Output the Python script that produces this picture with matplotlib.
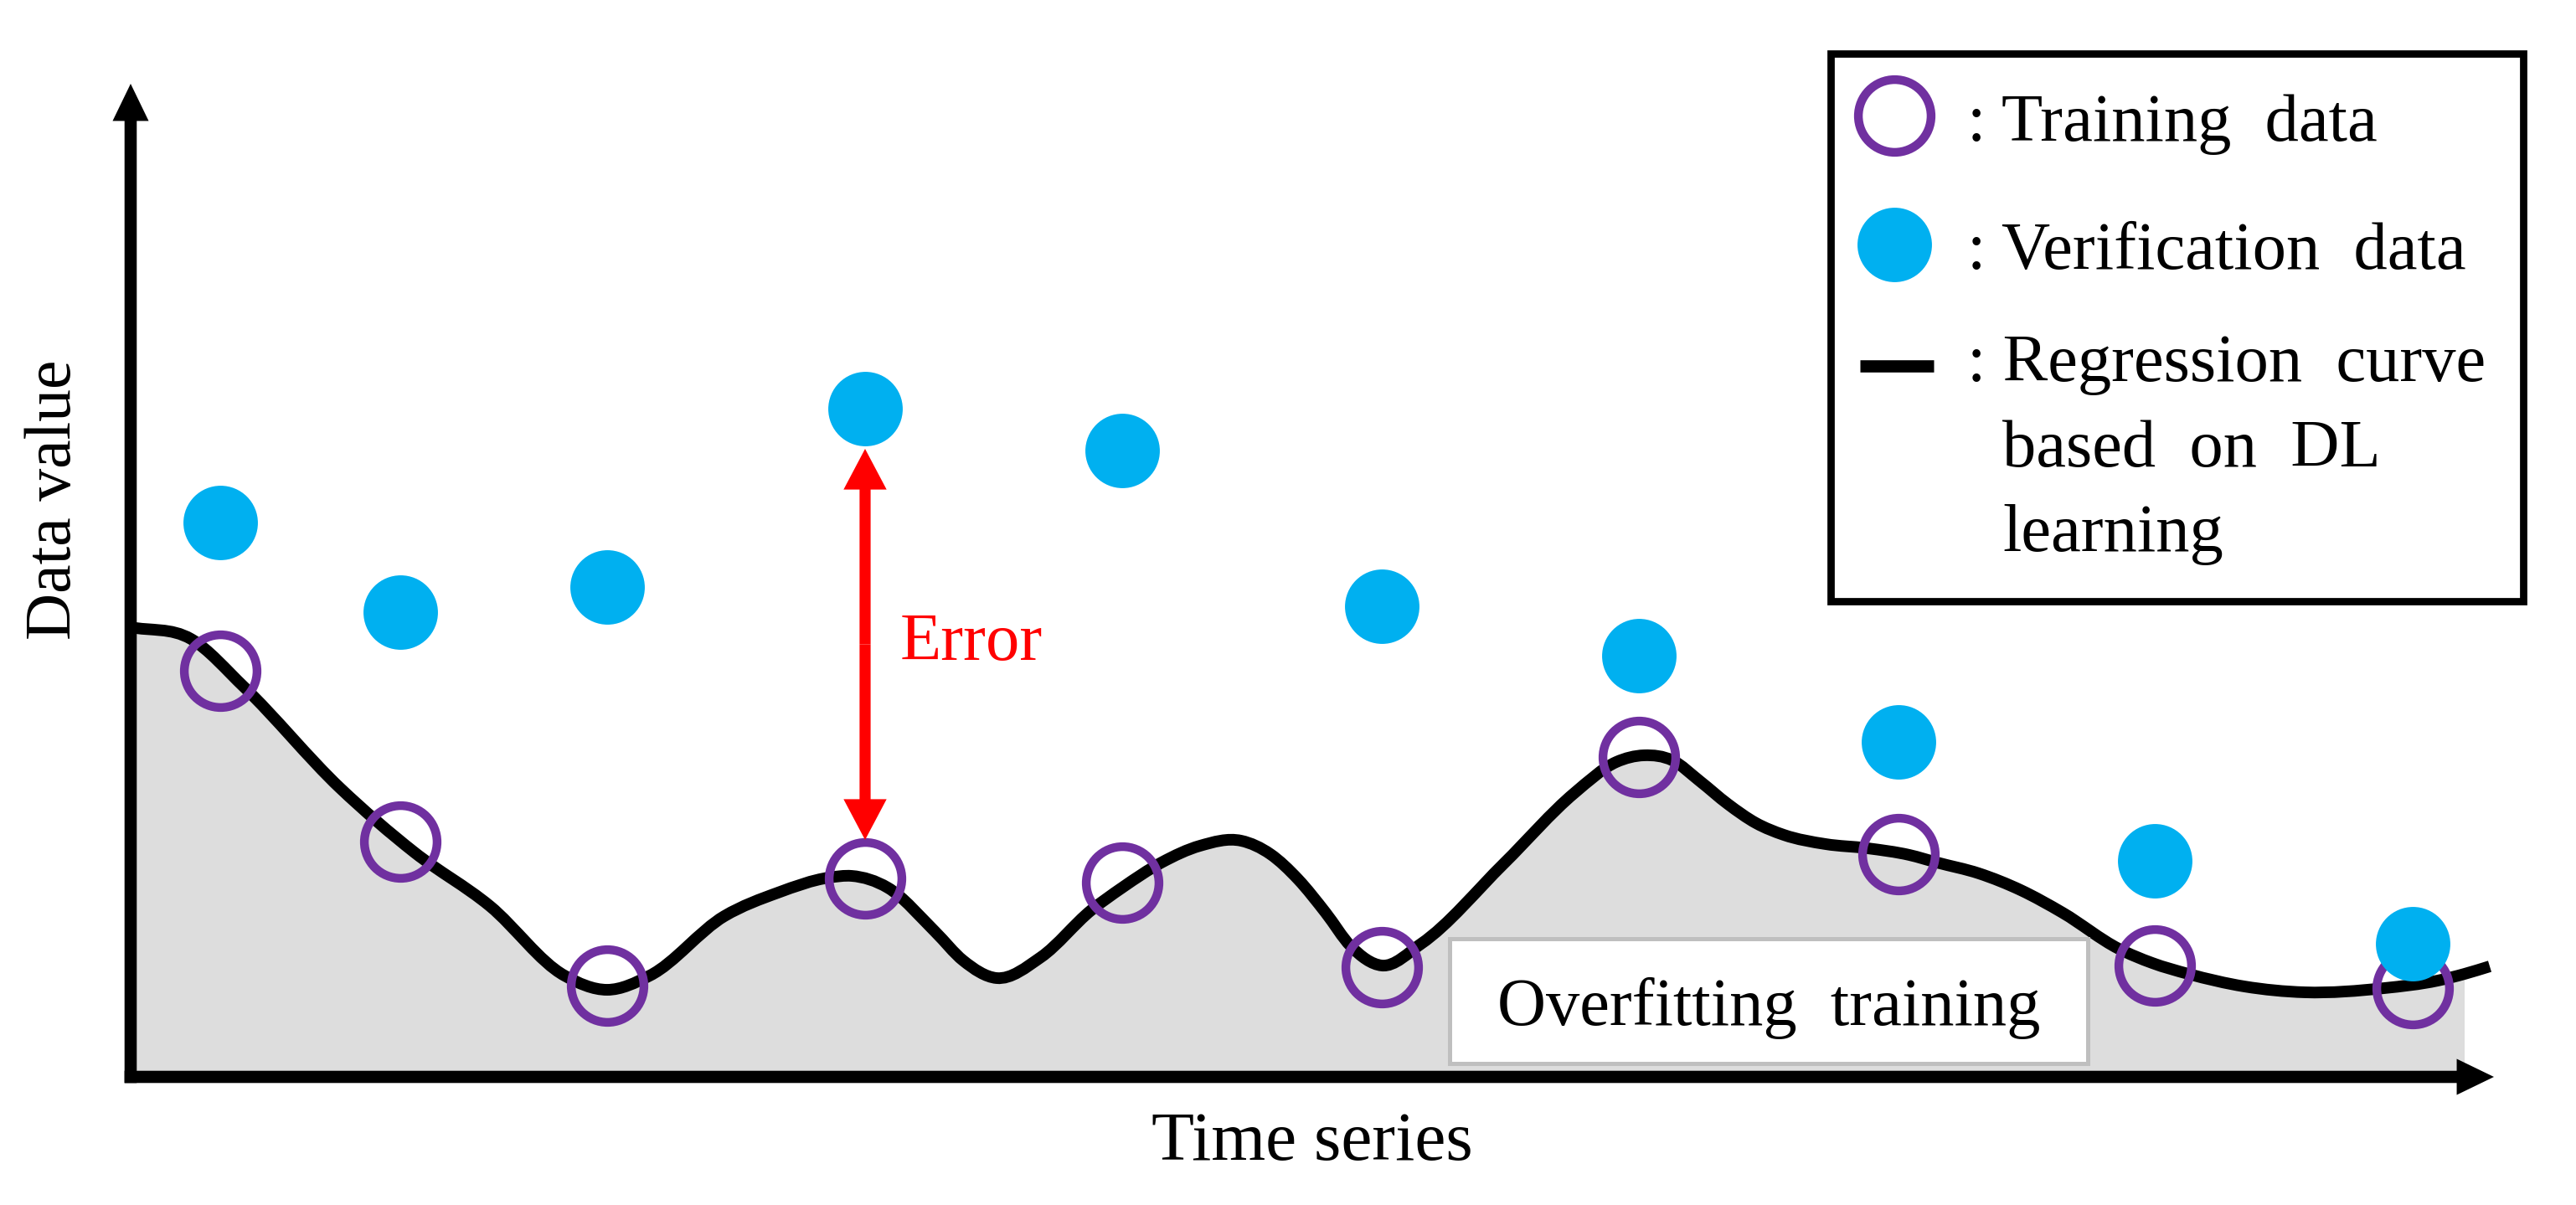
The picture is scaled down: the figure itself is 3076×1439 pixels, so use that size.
import numpy as np
import matplotlib
matplotlib.use("Agg")
import matplotlib.pyplot as plt
from matplotlib.path import Path
from matplotlib.patches import PathPatch, FancyArrowPatch, Rectangle

plt.rcParams['font.family'] = ['Liberation Serif', 'DejaVu Serif']

# ---------------- data (arbitrary units, origin at axes corner) ----------------
time_points = [10.7, 32.2, 56.9, 87.7, 118.4, 149.4, 180.1, 211.1, 241.7, 272.5]
training_values = [48.5, 28.1, 10.9, 23.7, 23.2, 13.1, 38.2, 26.6, 13.3, 10.6]
verification_values = [66.2, 55.5, 58.5, 79.8, 74.8, 56.2, 50.3, 40.0, 25.8, 15.9]

curve_x = [0.0, 7.2, 13.5, 25.0, 33.9, 42.9, 51.8, 56.9, 62.0, 70.9, 77.3, 83.4,
           86.1, 90.4, 96.1, 99.4, 103.4, 108.7, 114.7, 118.4, 123.1, 127.7,
           132.6, 136.1, 139.4, 142.7, 145.7, 149.4, 154.1, 164.0, 172.4, 177.4,
           180.7, 184.1, 187.4, 190.7, 194.1, 197.4, 202.4, 207.4, 212.4, 215.7,
           220.7, 225.7, 230.7, 237.4, 241.4, 245.7, 252.4, 259.6, 269.1, 275.5,
           278.7, 281.7]
curve_y = [53.7, 52.3, 46.6, 34.5, 26.8, 20.4, 12.1, 10.4, 12.1, 19.2, 22.0, 23.8,
           24.0, 22.6, 17.3, 13.9, 11.8, 14.3, 19.9, 22.6, 25.6, 27.6,
           28.2, 26.6, 23.6, 19.6, 15.6, 13.3, 15.9, 25.5, 33.9, 37.6,
           38.4, 37.8, 35.3, 32.6, 30.3, 28.9, 27.8, 27.3, 26.5, 25.6,
           24.3, 22.3, 19.6, 15.3, 13.6, 12.3, 10.8, 10.1, 10.6, 11.5,
           12.3, 13.2]
fill_end_x = 278.7
error_index = 3

x_label = "Time series"
y_label = "Data value"
legend_labels = [": Training  data", ": Verification  data", ": Regression  curve"]
legend_extra = ["based  on  DL", "learning"]
box_label = "Overfitting  training"
error_label = "Error"

# ---------------- styling ----------------
PURPLE = '#7030A0'
BLUE = '#00B0F0'
GRAY = '#DDDDDD'
FS = 58
RING_MS, RING_MEW, DOT_MS = 62.5, 7.5, 64

W, H, DPI = 3076, 1439, 100
fig = plt.figure(figsize=(W / DPI, H / DPI), dpi=DPI)
fig.patch.set_facecolor('white')

# main axes: corner at the arrow-axes origin
x0px, y0px, x1px, y1px = 156, 1286, 2978, 97
ax = fig.add_axes([x0px / W, (H - y0px) / H, (x1px - x0px) / W, (y0px - y1px) / H])
xmax = (x1px - x0px) / 10
ymax = (y0px - y1px) / 10
ax.set_xlim(0, xmax)
ax.set_ylim(0, ymax)
ax.axis('off')


def smooth_path(xs, ys):
    """Cubic Hermite (Bezier) path through the given points."""
    x = np.asarray(xs, float)
    y = np.asarray(ys, float)
    h = np.diff(x)
    d = np.diff(y) / h
    m = np.empty_like(y)
    m[0], m[-1] = d[0], d[-1]
    m[1:-1] = (h[:-1] * d[1:] + h[1:] * d[:-1]) / (h[:-1] + h[1:])
    verts = [(x[0], y[0])]
    codes = [Path.MOVETO]
    for i in range(len(x) - 1):
        verts += [(x[i] + h[i] / 3, y[i] + m[i] * h[i] / 3),
                  (x[i + 1] - h[i] / 3, y[i + 1] - m[i + 1] * h[i] / 3),
                  (x[i + 1], y[i + 1])]
        codes += [Path.CURVE4] * 3
    return verts, codes


verts, codes = smooth_path(curve_x, curve_y)
k = curve_x.index(fill_end_x)
fverts = verts[:1 + 3 * k] + [(fill_end_x, 0), (0, 0), (0, 0)]
fcodes = codes[:1 + 3 * k] + [Path.LINETO, Path.LINETO, Path.CLOSEPOLY]
ax.add_patch(PathPatch(Path(fverts, fcodes), facecolor=GRAY, edgecolor='none',
                       zorder=1, clip_on=False))
ax.add_patch(PathPatch(Path(verts, codes), facecolor='none', edgecolor='black',
                       lw=10, capstyle='butt', zorder=2, clip_on=False))

ax.plot(time_points, training_values, 'o', ms=RING_MS, mfc='none', mec=PURPLE,
        mew=RING_MEW, zorder=3, clip_on=False)
ax.plot(time_points, verification_values, 'o', ms=DOT_MS, color=BLUE, mec='none',
        zorder=4, clip_on=False)

# axes arrows (filled, sharp heads)
axis_style = 'simple,head_length=32,head_width=31,tail_width=10.5'
ax.add_patch(FancyArrowPatch((-0.73, 0), (xmax, 0), arrowstyle=axis_style,
                             mutation_scale=1, lw=0, color='black',
                             shrinkA=0, shrinkB=0, clip_on=False, zorder=5))
ax.add_patch(FancyArrowPatch((0, -0.73), (0, ymax - 0.3), arrowstyle=axis_style,
                             mutation_scale=1, lw=0, color='black',
                             shrinkA=0, shrinkB=0, clip_on=False, zorder=5))

# error arrow (double headed)
ex = time_points[error_index]
e_top = verification_values[error_index] - 4.8
e_bot = training_values[error_index] + 4.6
e_mid = (e_top + e_bot) / 2
err_style = 'simple,head_length=35,head_width=37,tail_width=9.5'
for end in (e_top, e_bot):
    ax.add_patch(FancyArrowPatch((ex, e_mid), (ex, end), arrowstyle=err_style,
                                 mutation_scale=1, lw=0, color='red',
                                 shrinkA=0, shrinkB=0, clip_on=False, zorder=6))
ax.text(ex + 4.2, verification_values[error_index] - 30.0, error_label,
        color='red', fontsize=FS, va='baseline', ha='left')

# overlay axes in pixel units for annotations
ov = fig.add_axes([0, 0, 1, 1], zorder=5)
ov.set_xlim(0, W)
ov.set_ylim(H, 0)
ov.axis('off')
ov.patch.set_alpha(0)

# legend
ov.add_patch(Rectangle((2186, 64), 3013 - 2186, 718 - 64, facecolor='white',
                       edgecolor='black', lw=6.3))
ov.plot([2262], [138], 'o', ms=RING_MS, mfc='none', mec=PURPLE, mew=RING_MEW)
ov.plot([2262], [292], 'o', ms=DOT_MS, color=BLUE, mec='none')
ov.plot([2221, 2309], [437, 437], color='black', lw=10.5, solid_capstyle='butt')
for txt, yb in zip(legend_labels, [168, 321, 455]):
    ov.text(2349, yb, txt, fontsize=FS, va='baseline', ha='left')
for txt, yb in zip(legend_extra, [557, 658]):
    ov.text(2391, yb, txt, fontsize=FS, va='baseline', ha='left')

# overfitting box
ov.add_patch(Rectangle((1731, 1121), 762, 149, facecolor='white',
                       edgecolor='#BFBFBF', lw=3.6))
ov.text(2112, 1224, box_label, fontsize=FS, va='baseline', ha='center')

# axis labels
ov.text(1567, 1385, x_label, fontsize=60, va='baseline', ha='center')
ov.text(84, 597, y_label, fontsize=56, rotation=90, rotation_mode='anchor',
        va='baseline', ha='center')

fig.savefig('out.png', dpi=DPI, facecolor='white')
